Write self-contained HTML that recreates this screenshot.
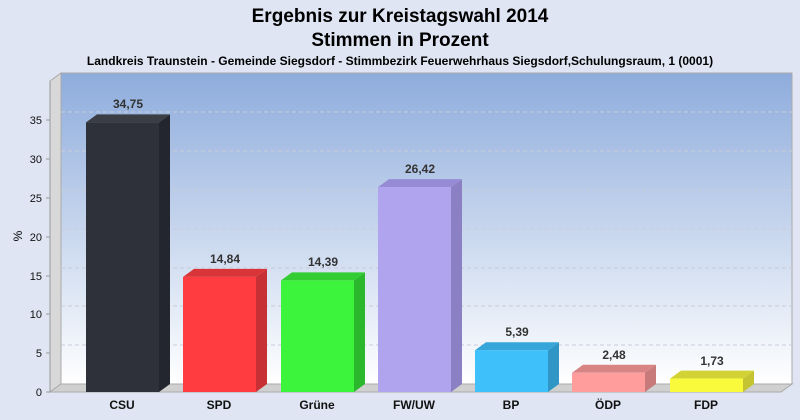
<!DOCTYPE html>
<html><head><meta charset="utf-8"><style>
html,body{margin:0;width:800px;height:420px;background:#dfe5f3;overflow:hidden}
svg{display:block}
</style></head><body>
<svg width="800" height="420" xmlns="http://www.w3.org/2000/svg" font-family="Liberation Sans, sans-serif">
<defs>
<linearGradient id="bg" x1="0" y1="0" x2="0" y2="1"><stop offset="0" stop-color="#8eacdc"/><stop offset="1" stop-color="#ffffff"/></linearGradient>
</defs>
<rect width="800" height="420" fill="#dfe5f3"/>
<text x="400" y="22" text-anchor="middle" font-size="19" font-weight="bold">Ergebnis zur Kreistagswahl 2014</text>
<text x="400" y="46" text-anchor="middle" font-size="19" font-weight="bold">Stimmen in Prozent</text>
<text x="400" y="65" text-anchor="middle" font-size="12" font-weight="bold">Landkreis Traunstein - Gemeinde Siegsdorf - Stimmbezirk Feuerwehrhaus Siegsdorf,Schulungsraum, 1 (0001)</text>
<rect x="61" y="73" width="731" height="311" fill="url(#bg)" stroke="#aaa" stroke-width="1"/>
<polygon points="50,81 61,73 61,384 50,392" fill="#d8d8d8" stroke="#aaa"/>
<polygon points="50,392 61,384 792,384 781,392" fill="#d0d0d0" stroke="#aaa"/>
<g stroke="#c8cdd8" stroke-dasharray="4,3" stroke-width="1">
<line x1="61" y1="345" x2="792" y2="345"/><line x1="61" y1="306" x2="792" y2="306"/><line x1="61" y1="268" x2="792" y2="268"/><line x1="61" y1="229" x2="792" y2="229"/><line x1="61" y1="190" x2="792" y2="190"/><line x1="61" y1="151" x2="792" y2="151"/><line x1="61" y1="112" x2="792" y2="112"/>
</g>
<line x1="50" y1="81" x2="50" y2="392" stroke="#999"/>
<g font-size="11" text-anchor="end" fill="#111">
<text x="42" y="396">0</text><text x="42" y="357">5</text><text x="42" y="318">10</text><text x="42" y="280">15</text><text x="42" y="241">20</text><text x="42" y="202">25</text><text x="42" y="163">30</text><text x="42" y="124">35</text>
</g>
<g stroke="#999"><line x1="46" y1="392" x2="50" y2="392"/><line x1="46" y1="353" x2="50" y2="353"/><line x1="46" y1="314" x2="50" y2="314"/><line x1="46" y1="276" x2="50" y2="276"/><line x1="46" y1="237" x2="50" y2="237"/><line x1="46" y1="198" x2="50" y2="198"/><line x1="46" y1="159" x2="50" y2="159"/><line x1="46" y1="120" x2="50" y2="120"/></g>
<text x="22" y="236" font-size="12" transform="rotate(-90 22 236)" text-anchor="middle">%</text>

<g font-size="12" font-weight="bold" text-anchor="middle" fill="#333">
<!-- CSU -->
<polygon points="159,122.4 170,114.4 170,384 159,392" fill="#23262e"/>
<polygon points="86,122.4 97,114.4 170,114.4 159,122.4" fill="#3a3d44"/>
<rect x="86" y="122.4" width="73" height="269.6" fill="#2e3139"/>
<text x="128" y="108">34,75</text>
<!-- SPD -->
<polygon points="256,276.9 267,268.9 267,384 256,392" fill="#c73034"/>
<polygon points="183,276.9 194,268.9 267,268.9 256,276.9" fill="#d93438"/>
<rect x="183" y="276.9" width="73" height="115.1" fill="#ff3c40"/>
<text x="225" y="263">14,84</text>
<!-- Grüne -->
<polygon points="354,280.4 365,272.4 365,384 354,392" fill="#2cb82c"/>
<polygon points="281,280.4 292,272.4 365,272.4 354,280.4" fill="#33cc33"/>
<rect x="281" y="280.4" width="73" height="111.6" fill="#3cf43c"/>
<text x="323" y="266">14,39</text>
<!-- FW/UW -->
<polygon points="451,187.1 462,179.1 462,384 451,392" fill="#8b80c4"/>
<polygon points="378,187.1 389,179.1 462,179.1 451,187.1" fill="#978bd6"/>
<rect x="378" y="187.1" width="73" height="204.9" fill="#b0a4ef"/>
<text x="420" y="173">26,42</text>
<!-- BP -->
<polygon points="548,350.2 559,342.2 559,384 548,392" fill="#3096c6"/>
<polygon points="475,350.2 486,342.2 559,342.2 548,350.2" fill="#36a6da"/>
<rect x="475" y="350.2" width="73" height="41.8" fill="#3ec0fb"/>
<text x="517" y="336">5,39</text>
<!-- ÖDP -->
<polygon points="645,372.8 656,364.8 656,384 645,392" fill="#c87a7a"/>
<polygon points="572,372.8 583,364.8 656,364.8 645,372.8" fill="#d88484"/>
<rect x="572" y="372.8" width="73" height="19.2" fill="#ff9c9c"/>
<text x="614" y="359">2,48</text>
<!-- FDP -->
<polygon points="743,378.6 754,370.6 754,384 743,392" fill="#c4c430"/>
<polygon points="670,378.6 681,370.6 754,370.6 743,378.6" fill="#d2d234"/>
<rect x="670" y="378.6" width="73" height="13.4" fill="#fafa3c"/>
<text x="712" y="365">1,73</text>
</g>

<g font-size="12" font-weight="bold" text-anchor="middle" fill="#111">
<text x="122" y="409">CSU</text><text x="219" y="409">SPD</text><text x="317" y="409">Grüne</text><text x="414" y="409">FW/UW</text><text x="511" y="409">BP</text><text x="608" y="409">ÖDP</text><text x="706" y="409">FDP</text>
</g>
</svg>
</body></html>
